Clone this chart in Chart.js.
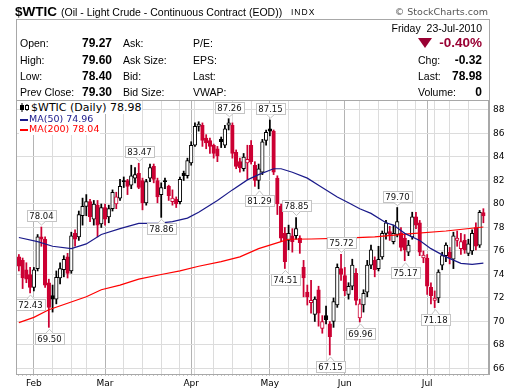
<!DOCTYPE html>
<html>
<head>
<meta charset="utf-8">
<script src="https://cdn.jsdelivr.net/npm/chart.js@4.4.1/dist/chart.umd.min.js"></script>
<style>
  html, body { margin: 0; padding: 0; background: #fff; }
  #wrap { position: relative; width: 520px; height: 391px; overflow: hidden;
          font-family: "Liberation Sans", Arial, sans-serif; color: #000; }
  #chart { position: absolute; left: 0; top: 0; }
  .t { position: absolute; white-space: nowrap; font-size: 10.5px; line-height: 14px; }
  .v { position: absolute; white-space: nowrap; font-size: 12px; line-height: 14px; font-weight: bold; text-align: right; }
  #box { position: absolute; left: 16px; top: 19px; width: 474px; height: 82px; box-sizing: border-box;
         border: 1px solid #a8a8a8; border-bottom: none; }
  .lg { position: absolute; white-space: nowrap; font-family: "DejaVu Sans", sans-serif; background: #fff; padding: 0 1px; }
</style>
</head>
<body>
<div id="wrap">
  <canvas id="chart" width="520" height="391"></canvas>

  <div id="box"></div>
  <div class="t" style="left:15px;top:4px;font-size:13.5px;line-height:16px;font-weight:bold;">$WTIC</div>
  <div class="t" style="left:61px;top:5px;">(Oil - Light Crude - Continuous Contract (EOD))</div>
  <div class="t" style="left:291px;top:5px;font-size:8.5px;letter-spacing:1px;">INDX</div>
  <div class="t" style="right:32px;top:5px;font-family:'DejaVu Sans',sans-serif;font-size:9.5px;color:#555;">&copy; StockCharts.com</div>

  <div class="t" style="right:38px;top:21px;">Friday&nbsp; 23-Jul-2010</div>

  <div class="t" style="left:20px;top:36px;">Open:</div>
  <div class="t" style="left:20px;top:53px;">High:</div>
  <div class="t" style="left:20px;top:69px;">Low:</div>
  <div class="t" style="left:20px;top:85px;">Prev Close:</div>
  <div class="v" style="right:408px;top:36px;">79.27</div>
  <div class="v" style="right:408px;top:53px;">79.60</div>
  <div class="v" style="right:408px;top:69px;">78.40</div>
  <div class="v" style="right:408px;top:85px;">79.30</div>

  <div class="t" style="left:123px;top:36px;">Ask:</div>
  <div class="t" style="left:123px;top:53px;">Ask Size:</div>
  <div class="t" style="left:123px;top:69px;">Bid:</div>
  <div class="t" style="left:123px;top:85px;">Bid Size:</div>

  <div class="t" style="left:193px;top:36px;">P/E:</div>
  <div class="t" style="left:193px;top:53px;">EPS:</div>
  <div class="t" style="left:193px;top:69px;">Last:</div>
  <div class="t" style="left:193px;top:85px;">VWAP:</div>

  <div style="position:absolute;left:418px;top:38px;width:0;height:0;border-left:7px solid transparent;border-right:7px solid transparent;border-top:10px solid #990033;"></div>
  <div class="v" style="right:38px;top:35px;font-size:13.5px;line-height:16px;color:#990033;">-0.40%</div>
  <div class="t" style="left:418px;top:53px;">Chg:</div>
  <div class="t" style="left:418px;top:69px;">Last:</div>
  <div class="t" style="left:418px;top:85px;">Volume:</div>
  <div class="v" style="right:38px;top:53px;">-0.32</div>
  <div class="v" style="right:38px;top:69px;">78.98</div>
  <div class="v" style="right:38px;top:85px;">0</div>

  <svg style="position:absolute;left:20px;top:103px;" width="10" height="9" viewBox="0 0 10 9">
    <rect x="0" y="0" width="10" height="9" fill="#fff"/>
    <line x1="2" y1="0" x2="2" y2="9" stroke="#000"/>
    <rect x="0.5" y="2.5" width="3" height="4" fill="#000" stroke="#000"/>
    <line x1="7" y1="1" x2="7" y2="8" stroke="#000"/>
    <rect x="5.5" y="2.5" width="3" height="4" fill="#fff" stroke="#000"/>
  </svg>
  <div class="lg" style="left:30px;top:101px;font-size:11px;line-height:13px;">$WTIC (Daily) 78.98</div>
  <div class="lg" style="left:19px;top:113px;font-size:9.5px;line-height:12px;color:#1a1a8a;"><span style="display:inline-block;width:8px;height:2px;background:#1a1a8a;vertical-align:middle;margin-right:1px;"></span>MA(50) 74.96</div>
  <div class="lg" style="left:19px;top:123px;font-size:9.5px;line-height:12px;color:#f00;"><span style="display:inline-block;width:8px;height:2px;background:#f00;vertical-align:middle;margin-right:1px;"></span>MA(200) 78.04</div>
</div>

<script>
// trading days shown (Jan 26 2010 .. Jul 23 2010)
const days = [
  '2010-01-26','2010-01-27','2010-01-28','2010-01-29',
  '2010-02-01','2010-02-02','2010-02-03','2010-02-04','2010-02-05','2010-02-08','2010-02-09','2010-02-10','2010-02-11','2010-02-12',
  '2010-02-16','2010-02-17','2010-02-18','2010-02-19','2010-02-22','2010-02-23','2010-02-24','2010-02-25','2010-02-26',
  '2010-03-01','2010-03-02','2010-03-03','2010-03-04','2010-03-05','2010-03-08','2010-03-09','2010-03-10','2010-03-11','2010-03-12',
  '2010-03-15','2010-03-16','2010-03-17','2010-03-18','2010-03-19','2010-03-22','2010-03-23','2010-03-24','2010-03-25','2010-03-26',
  '2010-03-29','2010-03-30','2010-03-31',
  '2010-04-01','2010-04-05','2010-04-06','2010-04-07','2010-04-08','2010-04-09','2010-04-12','2010-04-13','2010-04-14','2010-04-15',
  '2010-04-16','2010-04-19','2010-04-20','2010-04-21','2010-04-22','2010-04-23','2010-04-26','2010-04-27','2010-04-28','2010-04-29','2010-04-30',
  '2010-05-03','2010-05-04','2010-05-05','2010-05-06','2010-05-07','2010-05-10','2010-05-11','2010-05-12','2010-05-13','2010-05-14',
  '2010-05-17','2010-05-18','2010-05-19','2010-05-20','2010-05-21','2010-05-24','2010-05-25','2010-05-26','2010-05-27','2010-05-28',
  '2010-06-01','2010-06-02','2010-06-03','2010-06-04','2010-06-07','2010-06-08','2010-06-09','2010-06-10','2010-06-11',
  '2010-06-14','2010-06-15','2010-06-16','2010-06-17','2010-06-18','2010-06-21','2010-06-22','2010-06-23','2010-06-24','2010-06-25',
  '2010-06-28','2010-06-29','2010-06-30',
  '2010-07-01','2010-07-02','2010-07-06','2010-07-07','2010-07-08','2010-07-09','2010-07-12','2010-07-13','2010-07-14','2010-07-15',
  '2010-07-16','2010-07-19','2010-07-20','2010-07-21','2010-07-22','2010-07-23'
];

const opens = [
  75.5, 75.2, 74.4, 74.0,
  72.9, 74.5, 77.2, 77.0, 73.3, 72.2, 71.9, 73.7, 74.4, 75.5, 74.3, 77.5, 77.2, 79.0, 79.8, 80.2, 78.7, 79.9, 78.3,
  79.7, 78.9, 79.6, 80.0, 80.5, 82.0, 82.0, 81.6, 82.2, 82.6, 82.0, 80.1, 82.2, 83.2, 82.0, 80.8, 82.0, 81.5, 80.2, 80.4, 80.2, 82.6, 82.4,
  83.5, 85.0, 86.6, 86.7, 85.6, 85.4, 85.0, 84.7, 85.5, 85.0, 86.7, 86.7, 84.4, 83.6, 83.0, 83.5, 85.0, 83.3, 82.0, 82.7, 85.4,
  86.4, 86.2, 82.2, 79.8, 77.5, 76.9, 77.3, 77.3, 77.1, 74.6, 72.5, 71.6, 70.6, 72.7, 69.4, 70.5, 69.8, 70.0, 71.4, 74.5,
  73.9, 72.3, 73.0, 74.1, 70.3, 71.4, 72.5, 74.8, 75.2, 74.5, 75.5, 77.5, 77.65, 76.8, 77.4, 77.5, 77.1, 75.9, 77.2, 78.9, 78.4, 75.4,
  75.4, 72.9, 71.8, 72.0, 74.8, 75.6, 75.9, 75.3, 76.9, 76.2, 76.9, 75.8, 76.0, 78.0, 76.5, 79.27
];
const highs = [
  75.7, 75.4, 75.0, 74.6,
  74.6, 77.4, 78.04, 77.2, 73.6, 73.1, 74.3, 75.0, 75.6, 75.8, 77.6, 77.8, 79.4, 80.5, 80.8, 80.4, 80.3, 80.3, 80.0,
  80.0, 79.9, 81.2, 81.0, 82.1, 82.3, 82.1, 83.3, 83.1, 83.47, 82.2, 82.1, 83.4, 83.4, 82.2, 81.8, 82.2, 81.6, 81.2, 80.6, 82.3, 82.8, 83.9,
  85.3, 86.9, 87.0, 86.9, 85.9, 85.6, 85.1, 84.9, 85.7, 86.7, 87.26, 86.9, 84.6, 83.9, 84.3, 85.0, 85.4, 83.6, 83.4, 85.5, 86.3,
  87.15, 86.3, 82.4, 80.0, 78.0, 78.2, 77.9, 78.85, 77.3, 75.2, 73.1, 73.5, 72.1, 73.0, 70.5, 71.3, 70.0, 72.0, 74.9, 75.72,
  74.6, 73.3, 75.3, 74.5, 71.9, 72.7, 75.2, 76.5, 75.5, 76.4, 77.7, 78.6, 78.1, 78.2, 79.70, 78.0, 77.4, 76.9, 79.3, 79.3, 78.6, 76.0,
  75.7, 73.3, 72.6, 74.4, 75.9, 76.7, 76.3, 77.6, 77.7, 77.5, 77.4, 77.0, 77.8, 78.4, 79.45, 79.60
];
const lows = [
  74.3, 72.8, 73.3, 72.43,
  72.6, 74.3, 76.4, 72.9, 69.50, 70.8, 71.5, 73.2, 73.8, 73.7, 74.1, 76.4, 76.9, 78.2, 79.0, 78.5, 78.2, 77.2, 78.0,
  78.2, 78.4, 79.4, 79.6, 80.3, 81.4, 80.8, 81.3, 81.8, 81.3, 79.5, 79.9, 81.9, 81.8, 80.1, 78.86, 81.3, 80.3, 79.9, 79.7, 80.0, 82.0, 82.2,
  83.3, 84.9, 86.2, 84.9, 84.7, 84.3, 83.9, 83.6, 84.8, 84.8, 86.3, 83.9, 83.0, 82.7, 82.8, 82.1, 83.4, 81.5, 81.29, 82.5, 85.0,
  85.8, 82.5, 79.1, 76.8, 74.51, 76.1, 75.9, 77.0, 75.8, 72.1, 71.4, 70.7, 70.0, 69.6, 69.0, 69.8, 67.15, 69.5, 71.2, 73.5,
  72.2, 71.9, 72.7, 71.4, 69.96, 70.8, 72.1, 74.5, 73.8, 74.3, 75.3, 77.0, 76.9, 76.6, 77.2, 76.0, 75.17, 75.6, 77.0, 77.9, 75.6, 75.0,
  72.3, 71.5, 71.18, 71.6, 74.4, 75.1, 74.9, 74.5, 76.4, 75.7, 75.8, 75.6, 75.7, 76.1, 76.3, 78.40
];
const closes = [
  74.7, 73.7, 73.6, 72.9,
  74.4, 77.2, 77.0, 73.1, 71.2, 71.9, 73.75, 74.5, 75.3, 74.1, 77.3, 77.0, 79.1, 79.8, 80.2, 78.9, 80.0, 78.2, 79.7,
  78.7, 79.6, 81.0, 80.6, 81.5, 81.9, 81.5, 82.4, 82.5, 81.4, 80.1, 81.9, 83.1, 82.1, 80.6, 81.4, 81.9, 80.7, 80.5, 80.0, 82.1, 82.4, 83.7,
  85.0, 86.6, 86.8, 85.4, 85.2, 84.9, 84.3, 84.1, 85.3, 86.4, 86.9, 84.3, 83.2, 83.1, 84.0, 83.8, 83.6, 82.0, 83.0, 85.3, 86.1,
  86.2, 82.7, 80.0, 77.1, 75.1, 77.5, 76.8, 77.9, 76.7, 73.7, 72.1, 71.8, 71.9, 70.7, 70.0, 70.15, 68.7, 71.7, 74.6, 74.0,
  72.6, 73.0, 74.8, 71.8, 71.5, 72.4, 74.8, 76.1, 74.4, 75.3, 77.5, 78.4, 77.4, 77.5, 78.5, 76.3, 76.1, 76.5, 78.9, 78.2, 75.9, 75.65,
  73.0, 72.2, 72.0, 74.2, 75.6, 76.5, 75.4, 77.3, 77.1, 76.8, 76.1, 76.6, 77.5, 76.4, 79.3, 78.98
];

// moving averages at sample days
const ma50Days = [0, 5, 9, 14, 18, 22, 27, 32, 37, 41, 45, 48, 53, 57, 61, 64, 68, 70, 73, 77, 80, 85, 88, 91, 94, 98, 100, 103, 107, 110, 114, 118, 121, 124];
const ma50 = [77.15, 76.8, 76.4, 76.2, 76.6, 77.4, 77.9, 78.35, 78.35, 78.5, 78.8, 79.3, 80.3, 81.2, 82.05, 82.5, 83.0, 83.0, 82.7, 82.2, 81.6, 80.6, 80.1, 79.6, 79.2, 78.4, 78.2, 77.5, 76.9, 76.2, 75.5, 74.95, 74.86, 74.96];
const ma200Days = [0, 4, 8, 13, 18, 22, 27, 32, 38, 43, 48, 54, 59, 64, 70, 72, 78, 87, 95, 104, 114, 124];
const ma200 = [69.9, 70.35, 71.0, 71.55, 72.1, 72.7, 73.1, 73.6, 74.0, 74.3, 74.7, 75.1, 75.5, 76.2, 76.8, 77.0, 77.02, 77.1, 77.2, 77.45, 77.7, 78.04];

const yTicks = [66, 68, 70, 72, 74, 76, 78, 80, 82, 84, 86, 88];
const monthNames = ['Jan', 'Feb', 'Mar', 'Apr', 'May', 'Jun', 'Jul'];

// swing highs / lows that carry a price tag
const tagDays = [3, 6, 8, 32, 38, 56, 64, 67, 71, 74, 83, 86, 91, 101, 103, 111];
const tagIsHigh = [false, true, false, true, false, true, false, true, false, true, false, true, false, true, false, false];

const RED = '#cc0033';
const idx = days.map((d, i) => i);
const dts = days.map(d => new Date(d + 'T12:00:00'));
const monthStart = idx.filter(i => i > 0 && dts[i].getMonth() !== dts[i - 1].getMonth());
const weekStart = idx.filter(i => i > 0 && dts[i].getDay() < dts[i - 1].getDay());

const upDay = idx.map(i => i > 0 && closes[i] >= closes[i - 1]);
const inkColor = idx.map(i => upDay[i] ? '#000' : RED);
const bodyFill = idx.map(i => closes[i] >= opens[i] ? '#fff' : inkColor[i]);

const hiLoPlugin = {
  id: 'hiLo',
  afterDatasetsDraw(chart) {
    const { ctx, scales: { x, y } } = chart;
    ctx.save();
    ctx.font = '8.5px "DejaVu Sans"';
    ctx.textAlign = 'center';
    ctx.textBaseline = 'middle';
    ctx.lineWidth = 1;
    tagDays.forEach((i, k) => {
      const hi = tagIsHigh[k];
      const v = hi ? highs[i] : lows[i];
      const text = v.toFixed(2);
      const px = Math.round(x.getPixelForValue(i)) + 0.5;
      const py = y.getPixelForValue(v);
      const w = Math.ceil(ctx.measureText(text).width) + 4;
      const h = 11;
      const tip = hi ? py - 2 : py + 2;
      const base = Math.round(hi ? tip - 4 : tip + 4) + 0.5;
      const top = hi ? base - h : base;
      const left = Math.round(px - w / 2) + 0.5;
      ctx.fillStyle = '#fff';
      ctx.strokeStyle = '#c4c4c4';
      ctx.fillRect(left, top, w, h);
      ctx.strokeRect(left, top, w, h);
      ctx.beginPath();
      ctx.moveTo(px - 4, base);
      ctx.lineTo(px, tip);
      ctx.lineTo(px + 4, base);
      ctx.fill();
      ctx.stroke();
      ctx.fillStyle = '#111';
      ctx.fillText(text, px, top + h / 2 + 0.5);
    });
    ctx.restore();
  }
};

const framePlugin = {
  id: 'frame',
  afterDraw(chart) {
    const { ctx, chartArea: a } = chart;
    ctx.save();
    ctx.strokeStyle = '#a8a8a8';
    ctx.lineWidth = 1;
    ctx.strokeRect(a.left - 0.5, a.top + 0.5, a.right - a.left, a.bottom - a.top);
    ctx.restore();
  }
};

new Chart(document.getElementById('chart'), {
  type: 'bar',
  data: {
    datasets: [
      {
        type: 'line', label: 'MA(50)', order: 0,
        data: ma50Days.map((d, k) => ({ x: d, y: ma50[k] })),
        borderColor: '#1a1a8a', borderWidth: 1.2, pointRadius: 0, tension: 0
      },
      {
        type: 'line', label: 'MA(200)', order: 0,
        data: ma200Days.map((d, k) => ({ x: d, y: ma200[k] })),
        borderColor: '#ff0000', borderWidth: 1.2, pointRadius: 0, tension: 0
      },
      {
        label: 'body', order: 1, grouped: false,
        data: idx.map(i => ({ x: i, y: [opens[i], closes[i]] })),
        backgroundColor: bodyFill, borderColor: inkColor, borderWidth: 1,
        borderSkipped: false, barThickness: 3.6, minBarLength: 1
      },
      {
        label: 'wick', order: 2, grouped: false,
        data: idx.map(i => ({ x: i, y: [lows[i], highs[i]] })),
        backgroundColor: inkColor, borderWidth: 0, barThickness: 1.1
      }
    ]
  },
  options: {
    responsive: false,
    animation: false,
    layout: { padding: { left: 17, top: 100, right: 0, bottom: 0 } },
    plugins: { legend: { display: false }, tooltip: { enabled: false } },
    scales: {
      x: {
        type: 'linear', min: -0.5, max: 125.5, offset: false,
        afterBuildTicks: s => { s.ticks = idx.map(v => ({ value: v })); },
        afterFit: s => { s.height = 17; },
        grid: {
          offset: false, drawTicks: true, tickLength: 2, tickColor: '#c8c8c8',
          color: c => monthStart.includes(c.tick.value) ? '#b4b4b4'
                    : weekStart.includes(c.tick.value) ? '#dcdcdc' : 'rgba(0,0,0,0)'
        },
        border: { display: true, color: '#a8a8a8' },
        ticks: {
          autoSkip: false, maxRotation: 0, minRotation: 0, padding: 2, color: '#000',
          font: { family: 'DejaVu Sans', size: 9 },
          callback: v => monthStart.includes(v) ? monthNames[dts[v].getMonth()] : ''
        }
      },
      y: {
        type: 'linear', position: 'right', min: 65.53, max: 88.85, beginAtZero: false,
        afterBuildTicks: s => { s.ticks = yTicks.map(v => ({ value: v })); },
        afterFit: s => { s.width = 31; },
        grid: { color: '#dcdcdc', drawTicks: false },
        border: { display: true, color: '#a8a8a8' },
        ticks: { padding: 4, color: '#000', font: { family: 'DejaVu Sans', size: 9 } }
      }
    }
  },
  plugins: [hiLoPlugin, framePlugin]
});
</script>
</body>
</html>
